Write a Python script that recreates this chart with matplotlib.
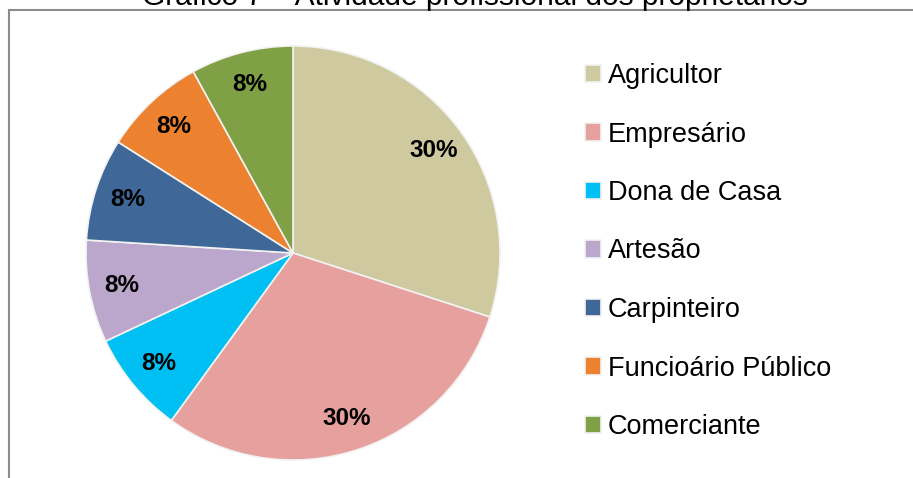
import matplotlib
matplotlib.use("Agg")
import matplotlib.pyplot as plt
from matplotlib.patches import Rectangle

W, H = 913, 478
plt.rcParams["font.family"] = ["Liberation Sans", "DejaVu Sans"]

# data
categories = ["Agricultor", "Empresário", "Dona de Casa", "Artesão",
              "Carpinteiro", "Funcioário Público", "Comerciante"]
shares = [30, 30, 8, 8, 8, 8, 8]
colors = ["#CFC9A0", "#E6A09E", "#00BFF3", "#BBA7CC",
          "#3F6898", "#EC8130", "#7FA045"]
title = "Gráfico 7 – Atividade profissional dos proprietários"

fig = plt.figure(figsize=(W / 100, H / 100), dpi=100)
fig.patch.set_facecolor("white")

# outer chart frame (runs off right/bottom edge like the crop)
fig.patches.append(Rectangle((8.5 / W, -0.05), 1.05, 1 - 10 / H + 0.05,
                             transform=fig.transFigure, fill=False,
                             edgecolor="#8c8c8c", linewidth=1.5))

# title sits partly above the top edge, as in the cropped original
fig.text(475 / W, 1 - 5 / H, title, ha="center", va="baseline", fontsize=21.5)

# pie axes: center (293, 253) px, radius ~207 px
cx, cy, r = 293, 253, 207
ax = fig.add_axes([(cx - r) / W, (H - cy - r) / H, 2 * r / W, 2 * r / H])
wedges, _, autotexts = ax.pie(
    shares, colors=colors, startangle=90, counterclock=False,
    autopct=lambda p: f"{p:.0f}%", pctdistance=0.84,
    wedgeprops=dict(edgecolor="#f2f2f2", linewidth=1.2),
    textprops=dict(fontsize=17.5, fontweight="bold", color="black"))
ax.set_xlim(-1, 1); ax.set_ylim(-1, 1)
ax.set_aspect("equal")

fig.legend(wedges, categories, loc="upper left",
           bbox_to_anchor=(585 / W, 1 - 63 / H), frameon=False,
           fontsize=19.5, handlelength=0.6, handleheight=0.6,
           handletextpad=0.25, labelspacing=1.2,
           borderpad=0, borderaxespad=0)

plt.savefig("out.png", dpi=100, facecolor="white")
plt.close()
